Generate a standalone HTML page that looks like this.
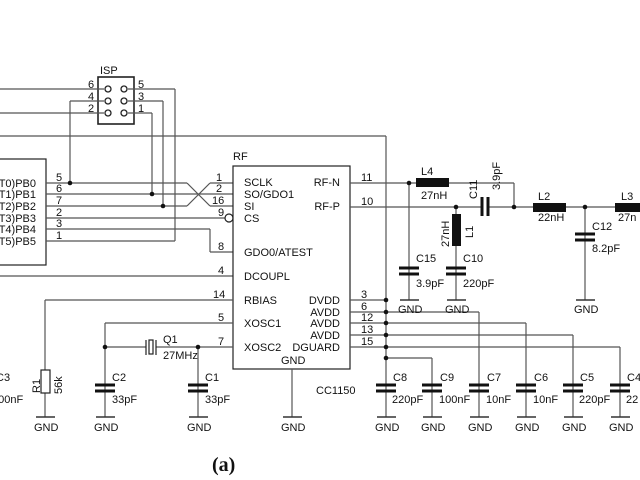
<!DOCTYPE html>
<html><head><meta charset="utf-8"><style>
html,body{margin:0;padding:0;background:#fff;width:640px;height:480px;overflow:hidden}
svg{display:block}
text{font-family:"Liberation Sans",sans-serif;font-size:11px;fill:#111}
</style></head><body>
<svg width="640" height="480" viewBox="0 0 640 480" xmlns="http://www.w3.org/2000/svg">
<g stroke="#555" stroke-width="1.2" fill="none">
<!-- ISP -->
<rect x="98" y="77" width="36" height="47" stroke="#222" stroke-width="1.6"/>
<line x1="0" y1="89" x2="104" y2="89"/>
<line x1="70" y1="101" x2="104" y2="101"/><line x1="70" y1="101" x2="70" y2="183"/>
<line x1="0" y1="113" x2="104" y2="113"/>
<line x1="128" y1="89" x2="175" y2="89"/><line x1="175" y1="89" x2="175" y2="241"/>
<line x1="128" y1="101" x2="163" y2="101"/><line x1="163" y1="101" x2="163" y2="206"/>
<line x1="128" y1="113" x2="152" y2="113"/><line x1="152" y1="113" x2="152" y2="194"/>
<line x1="0" y1="136" x2="386" y2="136"/><line x1="386" y1="136" x2="386" y2="385"/>
<!-- MCU -->
<rect x="-5" y="159" width="51" height="106" stroke="#222"/>
<line x1="46" y1="183" x2="187" y2="183"/><line x1="187" y1="183" x2="210" y2="206"/><line x1="210" y1="206" x2="233" y2="206"/>
<line x1="46" y1="194" x2="233" y2="194"/>
<line x1="46" y1="206" x2="187" y2="206"/><line x1="187" y1="206" x2="210" y2="183"/><line x1="210" y1="183" x2="233" y2="183"/>
<line x1="46" y1="218" x2="225" y2="218"/>
<line x1="46" y1="229" x2="210" y2="229"/><line x1="210" y1="229" x2="210" y2="252"/><line x1="210" y1="252" x2="233" y2="252"/>
<line x1="46" y1="241" x2="175" y2="241"/>
<line x1="0" y1="276" x2="233" y2="276"/>
<!-- RF box -->
<rect x="233" y="166" width="117" height="203" stroke="#222"/>
<circle cx="229" cy="218" r="4" stroke="#222"/>
<line x1="45" y1="300" x2="233" y2="300"/><line x1="45" y1="300" x2="45" y2="417"/>
<rect x="41" y="370" width="9" height="23" fill="#fff" stroke="#222"/>
<line x1="105" y1="323" x2="233" y2="323"/><line x1="105" y1="323" x2="105" y2="417"/>
<line x1="105" y1="347" x2="146" y2="347"/><line x1="156" y1="347" x2="233" y2="347"/>
<line x1="146" y1="340" x2="146" y2="355" stroke="#222"/><line x1="156" y1="340" x2="156" y2="355" stroke="#222"/>
<rect x="149" y="340" width="4" height="14" stroke="#222"/>
<line x1="198" y1="347" x2="198" y2="417"/>
<line x1="292" y1="369" x2="292" y2="417"/>
<!-- right pins -->
<line x1="350" y1="300" x2="386" y2="300"/>
<line x1="350" y1="312" x2="479" y2="312"/><line x1="479" y1="312" x2="479" y2="417"/>
<line x1="350" y1="323" x2="526" y2="323"/><line x1="526" y1="323" x2="526" y2="417"/>
<line x1="350" y1="335" x2="573" y2="335"/><line x1="573" y1="335" x2="573" y2="417"/>
<line x1="350" y1="347" x2="620" y2="347"/><line x1="620" y1="347" x2="620" y2="417"/>
<line x1="386" y1="358" x2="432" y2="358"/><line x1="432" y1="358" x2="432" y2="417"/>
<line x1="386" y1="385" x2="386" y2="417"/>
<!-- RF out -->
<line x1="350" y1="183" x2="416" y2="183"/><line x1="449" y1="183" x2="514" y2="183"/><line x1="514" y1="183" x2="514" y2="207"/>
<line x1="350" y1="207" x2="482" y2="207"/><line x1="488" y1="207" x2="640" y2="207"/>
<line x1="409" y1="183" x2="409" y2="300"/>
<line x1="456" y1="207" x2="456" y2="300"/>
<line x1="585" y1="207" x2="585" y2="300"/>
</g>
<!-- caps -->
<g stroke="#111" stroke-width="3">
<line x1="472" y1="206" x2="0" y2="0" stroke="none"/>
<line x1="482" y1="197" x2="482" y2="216"/><line x1="488" y1="197" x2="488" y2="216"/>
<line x1="399" y1="268" x2="419" y2="268"/><line x1="399" y1="274" x2="419" y2="274"/>
<line x1="446" y1="268" x2="466" y2="268"/><line x1="446" y1="274" x2="466" y2="274"/>
<line x1="575" y1="234" x2="595" y2="234"/><line x1="575" y1="240" x2="595" y2="240"/>
<line x1="95" y1="385" x2="115" y2="385"/><line x1="95" y1="391" x2="115" y2="391"/>
<line x1="188" y1="385" x2="208" y2="385"/><line x1="188" y1="391" x2="208" y2="391"/>
<line x1="376" y1="385" x2="396" y2="385"/><line x1="376" y1="391" x2="396" y2="391"/>
<line x1="422" y1="385" x2="442" y2="385"/><line x1="422" y1="391" x2="442" y2="391"/>
<line x1="469" y1="385" x2="489" y2="385"/><line x1="469" y1="391" x2="489" y2="391"/>
<line x1="516" y1="385" x2="536" y2="385"/><line x1="516" y1="391" x2="536" y2="391"/>
<line x1="563" y1="385" x2="583" y2="385"/><line x1="563" y1="391" x2="583" y2="391"/>
<line x1="610" y1="385" x2="630" y2="385"/><line x1="610" y1="391" x2="630" y2="391"/>
</g>
<!-- GND bars -->
<g stroke="#333" stroke-width="1.4">
<line x1="36" y1="417" x2="55" y2="417"/><line x1="96" y1="417" x2="115" y2="417"/><line x1="189" y1="417" x2="208" y2="417"/><line x1="283" y1="417" x2="302" y2="417"/>
<line x1="377" y1="417" x2="396" y2="417"/><line x1="423" y1="417" x2="442" y2="417"/><line x1="470" y1="417" x2="489" y2="417"/><line x1="517" y1="417" x2="536" y2="417"/><line x1="564" y1="417" x2="583" y2="417"/><line x1="611" y1="417" x2="630" y2="417"/>
<line x1="400" y1="300" x2="419" y2="300"/><line x1="447" y1="300" x2="466" y2="300"/><line x1="576" y1="300" x2="595" y2="300"/>
</g>
<!-- inductors -->
<g fill="#111">
<rect x="416" y="178" width="33" height="9"/>
<rect x="533" y="203" width="33" height="9"/>
<rect x="615" y="203" width="30" height="9"/>
<rect x="452" y="214" width="9" height="32"/>
</g>
<!-- ISP pins -->
<g fill="#fff" stroke="#222" stroke-width="1.3">
<circle cx="108" cy="89" r="3"/><circle cx="124" cy="89" r="3"/>
<circle cx="108" cy="101" r="3"/><circle cx="124" cy="101" r="3"/>
<circle cx="108" cy="113" r="3"/><circle cx="124" cy="113" r="3"/>
</g>
<!-- dots -->
<g fill="#111">
<circle cx="70" cy="183" r="2.3"/><circle cx="152" cy="194" r="2.3"/><circle cx="163" cy="206" r="2.3"/>
<circle cx="105" cy="347" r="2.3"/><circle cx="198" cy="347" r="2.3"/>
<circle cx="386" cy="300" r="2.3"/><circle cx="386" cy="312" r="2.3"/><circle cx="386" cy="323" r="2.3"/><circle cx="386" cy="335" r="2.3"/><circle cx="386" cy="347" r="2.3"/><circle cx="386" cy="358" r="2.3"/>
<circle cx="409" cy="183" r="2.3"/><circle cx="456" cy="207" r="2.3"/><circle cx="514" cy="207" r="2.3"/><circle cx="585" cy="207" r="2.3"/>
</g>
<!-- text -->
<text x="100" y="74" font-size="12">ISP</text>
<text x="88" y="88">6</text><text x="88" y="100">4</text><text x="88" y="112">2</text>
<text x="138" y="88">5</text><text x="138" y="100">3</text><text x="138" y="112">1</text>
<text x="233" y="160" font-size="12">RF</text>
<g text-anchor="end"><text x="36" y="187">IT0)PB0</text><text x="36" y="198">IT1)PB1</text><text x="36" y="210">IT2)PB2</text><text x="36" y="222">IT3)PB3</text><text x="36" y="233">IT4)PB4</text><text x="36" y="245">IT5)PB5</text></g>
<text x="56" y="181">5</text><text x="56" y="192">6</text><text x="56" y="204">7</text><text x="56" y="216">2</text><text x="56" y="227">3</text><text x="56" y="239">1</text>
<text x="216" y="181">1</text><text x="216" y="192">2</text><text x="212" y="204">16</text><text x="218" y="216">9</text><text x="218" y="250">8</text><text x="218" y="274">4</text>
<text x="213" y="298">14</text><text x="218" y="321">5</text><text x="218" y="345">7</text>
<text x="244" y="186">SCLK</text><text x="244" y="198">SO/GDO1</text><text x="244" y="210">SI</text><text x="244" y="222">CS</text>
<text x="244" y="256">GDO0/ATEST</text><text x="244" y="280">DCOUPL</text>
<text x="244" y="304">RBIAS</text><text x="244" y="327">XOSC1</text><text x="244" y="351">XOSC2</text>
<text x="281" y="364">GND</text>
<g text-anchor="end"><text x="340" y="186">RF-N</text><text x="340" y="210">RF-P</text><text x="340" y="304">DVDD</text><text x="340" y="316">AVDD</text><text x="340" y="327">AVDD</text><text x="340" y="339">AVDD</text><text x="340" y="351">DGUARD</text></g>
<text x="361" y="181">11</text><text x="361" y="205">10</text>
<text x="361" y="298">3</text><text x="361" y="310">6</text><text x="361" y="321">12</text><text x="361" y="333">13</text><text x="361" y="345">15</text>
<text x="316" y="394">CC1150</text>
<text x="421" y="175">L4</text><text x="421" y="199">27nH</text>
<text x="538" y="200">L2</text><text x="538" y="221">22nH</text>
<text x="621" y="200">L3</text><text x="618" y="221">27n</text>
<text transform="translate(477,199) rotate(-90)">C11</text>
<text transform="translate(500,190) rotate(-90)">3.9pF</text>
<text transform="translate(473,238) rotate(-90)">L1</text>
<text transform="translate(449,247) rotate(-90)">27nH</text>
<text x="416" y="262">C15</text><text x="416" y="287">3.9pF</text>
<text x="463" y="262">C10</text><text x="463" y="287">220pF</text>
<text x="592" y="230">C12</text><text x="592" y="252">8.2pF</text>
<text x="163" y="343">Q1</text><text x="163" y="359">27MHz</text>
<text x="112" y="381">C2</text><text x="112" y="403">33pF</text>
<text x="205" y="381">C1</text><text x="205" y="403">33pF</text>
<text x="-4" y="381">C3</text><text x="-8" y="403">100nF</text>
<text transform="translate(40,393) rotate(-90)">R1</text>
<text transform="translate(62,394) rotate(-90)">56k</text>
<text x="393" y="381">C8</text><text x="392" y="403">220pF</text>
<text x="440" y="381">C9</text><text x="439" y="403">100nF</text>
<text x="487" y="381">C7</text><text x="486" y="403">10nF</text>
<text x="534" y="381">C6</text><text x="533" y="403">10nF</text>
<text x="580" y="381">C5</text><text x="579" y="403">220pF</text>
<text x="627" y="381">C4</text><text x="626" y="403">22</text>
<g>
<text x="34" y="431">GND</text><text x="94" y="431">GND</text><text x="187" y="431">GND</text><text x="281" y="431">GND</text>
<text x="375" y="431">GND</text><text x="421" y="431">GND</text><text x="468" y="431">GND</text><text x="515" y="431">GND</text><text x="562" y="431">GND</text><text x="609" y="431">GND</text>
<text x="398" y="313">GND</text><text x="445" y="313">GND</text><text x="574" y="313">GND</text>
</g>
<text x="212" y="471" style="font-family:'Liberation Serif',serif;font-size:20px;font-weight:bold">(a)</text>
</svg>
</body></html>
